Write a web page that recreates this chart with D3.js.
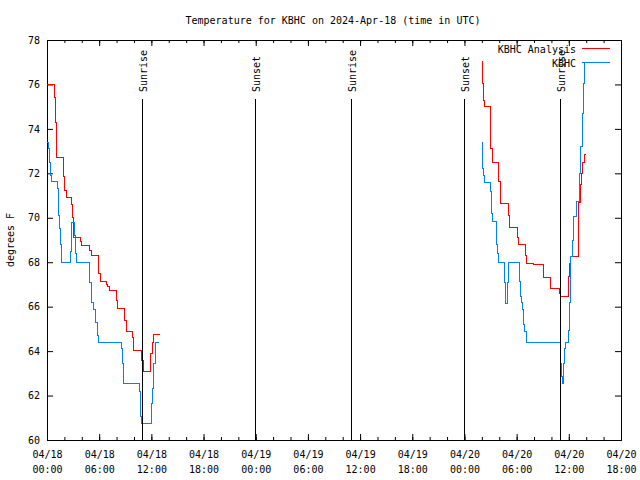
<!DOCTYPE html>
<html><head><meta charset="utf-8">
<script src="https://cdn.jsdelivr.net/npm/d3@7"></script>
<style>
html,body{margin:0;padding:0;background:#fff;}
svg{display:block;}
text{font-family:"DejaVu Sans Mono","Liberation Mono",monospace;font-size:10px;fill:#000;}
</style></head><body>
<svg id="chart" width="640" height="480"></svg>
<script>
const chartTitle = "Temperature for KBHC on 2024-Apr-18 (time in UTC)";
const yAxisLabel = "degrees F";
const seriesNames = ["KBHC Analysis", "KBHC"];
const seriesColors = ["#ff0000", "#0080ff"];

// hours after 2024-04-18 00:00 UTC; null marks a gap in the record
const analysisHours = [0.0, 0.9, 1.0, 1.1, 1.95, 2.05, 2.2, 2.85, 2.95, 3.05, 3.8, 4.0, 4.9, 5.1, 5.9, 6.1, 6.85, 7.0, 7.15, 7.95, 8.05, 8.95, 9.1, 9.85, 10.0, 10.9, 11.1, 11.95, 12.1, 12.2, 13.0,
  null,
  50.0, 50.1, 50.2, 50.3, 50.94, 51.05, 51.2, 51.97, 52.09, 52.2, 53.04, 53.16, 54.12, 54.27, 55.04, 55.15, 55.9, 57.07, 57.95, 58.9, 59.1, 59.94, 60.06, 60.17, 61.09, 61.17, 61.29, 61.44, 61.63, 61.86, 61.95];
const analysisTemps = [76.0, 75.4, 74.3, 72.7, 71.85, 71.25, 70.9, 70.6, 70.0, 69.1, 68.95, 68.75, 68.55, 68.3, 67.5, 67.15, 67.0, 66.9, 66.75, 66.3, 65.93, 65.4, 64.9, 64.6, 64.05, 63.6, 63.07, 63.9, 64.4, 64.77, 64.77,
  null,
  77.05, 76.05, 75.3, 75.0, 74.33, 73.13, 72.5, 71.63, 71.0, 70.65, 70.1, 69.57, 69.1, 68.82, 68.3, 67.95, 67.88, 67.32, 66.8, 66.6, 66.48, 67.35, 67.95, 68.25, 69.83, 70.7, 71.5, 72.0, 72.5, 72.83, 72.83];

const obsHours = [0.0, 0.12, 0.25, 0.4, 0.55, 1.18, 1.3, 1.42, 1.6, 1.72, 2.65, 2.76, 2.84, 3.14, 3.3, 3.41, 4.94, 5.14, 5.32, 5.63, 5.78, 5.9, 8.59, 8.7, 8.85, 10.58, 10.7, 10.8, 10.9, 11.96, 12.1, 12.3, 12.5, 12.9,
  null,
  49.98, 50.1, 50.2, 50.3, 51.02, 51.13, 51.2, 51.63, 51.74, 51.82, 51.9, 52.58, 52.74, 52.95, 53.12, 54.3, 54.42, 54.53, 54.7, 54.81, 54.96, 55.11, 58.99, 59.07, 59.18, 59.25, 59.37, 59.48, 59.64, 59.94, 60.06, 60.14, 60.25, 60.4, 60.52, 60.9, 61.2, 61.4, 61.55, 61.67, 61.86];
const obsTemps = [73.4, 73.1, 72.5, 71.9, 71.62, 71.3, 70.1, 69.5, 68.8, 67.98, 68.5, 69.3, 69.8, 69.2, 68.4, 67.98, 67.1, 66.2, 65.88, 65.3, 64.7, 64.4, 64.1, 63.45, 62.55, 62.2, 61.65, 61.05, 60.75, 61.65, 62.3, 63.45, 64.4, 64.4,
  null,
  73.4, 72.2, 71.9, 71.6, 71.17, 70.2, 69.83, 69.45, 68.8, 68.4, 68.0, 67.1, 66.15, 67.1, 68.0, 67.12, 66.45, 66.2, 65.88, 65.2, 64.87, 64.4, 64.12, 63.45, 62.85, 62.55, 63.45, 64.12, 64.4, 64.95, 66.2, 67.35, 68.25, 69.0, 70.05, 70.72, 72.0, 73.2, 74.7, 76.05, 76.98];

const sunHours = [10.92, 23.92, 34.95, 47.95, 58.98];
const sunLabels = ["Sunrise", "Sunset", "Sunrise", "Sunset", "Sunrise"];
const yTickValues = [60, 62, 64, 66, 68, 70, 72, 74, 76, 78];
const xStartHour = 0, xEndHour = 66;

const t0 = Date.UTC(2024, 3, 18, 0, 0);
const toDate = h => new Date(t0 + h * 3600e3);

const svg = d3.select("#chart");
const L = 47, R = 621, T = 40, B = 440;

const x = d3.scaleUtc().domain([toDate(xStartHour), toDate(xEndHour)]).range([L, R]);
const y = d3.scaleLinear().domain([60, 78]).range([B, T]);

// minor ticks (every 2 h)
const minorTicks = x.ticks(d3.utcHour.every(2));
svg.append("g").attr("transform", `translate(0,${B})`)
  .call(d3.axisBottom(x).tickValues(minorTicks).tickSize(-3).tickSizeOuter(0).tickFormat(""))
  .call(g => g.select(".domain").remove());
svg.append("g").attr("transform", `translate(0,${T})`)
  .call(d3.axisTop(x).tickValues(minorTicks).tickSize(-3).tickSizeOuter(0).tickFormat(""))
  .call(g => g.select(".domain").remove());

// major ticks (every 6 h)
const majorTicks = x.ticks(d3.utcHour.every(6));
const fDay = d3.utcFormat("%m/%d"), fTime = d3.utcFormat("%H:%M");
const xb = svg.append("g").attr("transform", `translate(0,${B})`)
  .call(d3.axisBottom(x).tickValues(majorTicks).tickSize(-6).tickSizeOuter(0).tickFormat(""))
  .call(g => g.select(".domain").remove());
xb.selectAll(".tick text").remove();
xb.selectAll(".tick").append("text")
  .attr("text-anchor", "middle")
  .each(function(d) {
    const t = d3.select(this);
    t.append("tspan").attr("x", 0).attr("y", 18).text(fDay(d));
    t.append("tspan").attr("x", 0).attr("y", 33).text(fTime(d));
  });
svg.append("g").attr("transform", `translate(0,${T})`)
  .call(d3.axisTop(x).tickValues(majorTicks).tickSize(-6).tickSizeOuter(0).tickFormat(""))
  .call(g => g.select(".domain").remove());

// y axes
svg.append("g").attr("transform", `translate(${L},0)`)
  .call(d3.axisLeft(y).tickValues(yTickValues).tickSize(-6).tickSizeOuter(0).tickPadding(7).tickFormat(d3.format("d")))
  .call(g => g.select(".domain").remove())
  .call(g => g.selectAll("text").style("font-family", '"DejaVu Sans Mono", monospace').style("font-size", "10px"));
svg.append("g").attr("transform", `translate(${R},0)`)
  .call(d3.axisRight(y).tickValues(yTickValues).tickSize(-6).tickSizeOuter(0).tickFormat(""))
  .call(g => g.select(".domain").remove());

svg.selectAll("g .tick line").attr("stroke", "#000");

// frame
svg.append("rect").attr("x", L + 0.5).attr("y", T + 0.5).attr("width", R - L).attr("height", B - T)
  .attr("fill", "none").attr("stroke", "#000").attr("stroke-width", 1);

// data
const clipId = "plotclip";
svg.append("clipPath").attr("id", clipId).append("rect").attr("x", L).attr("y", T).attr("width", R - L).attr("height", B - T);

const mk = (hs, vs) => hs.map((h, i) => ({ h, v: vs[i] }));
const line = d3.line()
  .defined(d => d.h != null && d.v != null)
  .x(d => x(toDate(d.h))).y(d => y(d.v))
  .curve(d3.curveStepAfter);

const series = [mk(analysisHours, analysisTemps), mk(obsHours, obsTemps)];
series.forEach((s, i) => {
  svg.append("path").attr("d", line(s)).attr("fill", "none")
    .attr("stroke", seriesColors[i]).attr("stroke-width", 1)
    .attr("shape-rendering", "crispEdges")
    .attr("clip-path", `url(#${clipId})`);
});

// sunrise / sunset markers
sunHours.forEach((h, i) => {
  const px = Math.round(x(toDate(h))) + 0.5;
  svg.append("line").attr("x1", px).attr("x2", px).attr("y1", 99).attr("y2", B)
    .attr("stroke", "#000").attr("stroke-width", 1);
  svg.append("text").attr("transform", `translate(${px + 4},92) rotate(-90)`)
    .attr("text-anchor", "start").text(sunLabels[i]);
});

// legend
const legY = [48.5, 62.5];
seriesNames.forEach((n, i) => {
  svg.append("text").attr("x", 576).attr("y", legY[i] + 4).attr("text-anchor", "end").text(n);
  svg.append("line").attr("x1", 582).attr("x2", 610).attr("y1", legY[i]).attr("y2", legY[i])
    .attr("stroke", seriesColors[i]).attr("stroke-width", 1);
});

// title & axis label
svg.append("text").attr("x", 333).attr("y", 24).attr("text-anchor", "middle").text(chartTitle);
svg.append("text").attr("transform", "translate(14,240) rotate(-90)").attr("text-anchor", "middle").text(yAxisLabel);
</script>
</body></html>
